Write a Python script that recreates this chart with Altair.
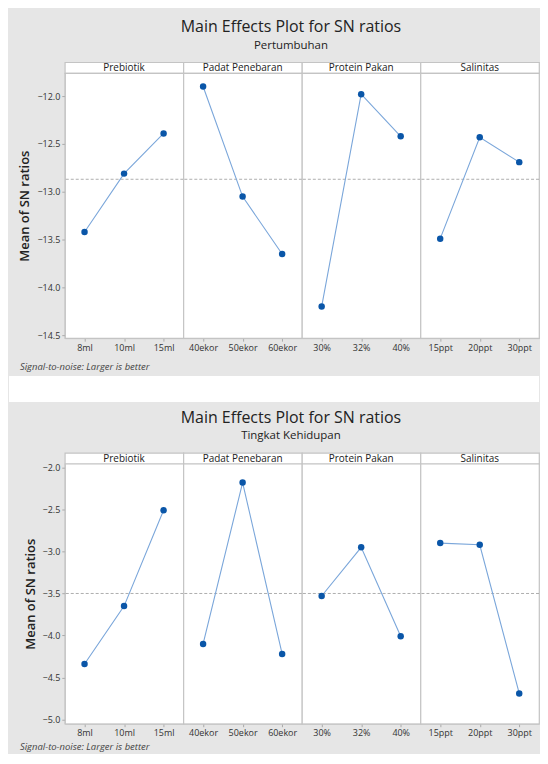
import altair as alt
import pandas as pd

FONT = "Open Sans"

factors = ["Prebiotik", "Padat Penebaran", "Protein Pakan", "Salinitas"]
levels = [
    ["8ml", "10ml", "15ml"],
    ["40ekor", "50ekor", "60ekor"],
    ["30%", "32%", "40%"],
    ["15ppt", "20ppt", "30ppt"],
]

# Mean of SN ratios, Pertumbuhan (growth)
sn_pertumbuhan = [
    [-13.42, -12.81, -12.39],
    [-11.90, -13.05, -13.65],
    [-14.20, -11.98, -12.42],
    [-13.49, -12.43, -12.69],
]
# Mean of SN ratios, Tingkat Kehidupan (survival)
sn_kehidupan = [
    [-4.34, -3.65, -2.51],
    [-4.10, -2.18, -4.22],
    [-3.53, -2.95, -4.01],
    [-2.90, -2.92, -4.69],
]

ticks_pertumbuhan = [-12.0, -12.5, -13.0, -13.5, -14.0, -14.5]
ticks_kehidupan = [-2.0, -2.5, -3.0, -3.5, -4.0, -4.5, -5.0]
domain_pertumbuhan = [-14.53, -11.76]
domain_kehidupan = [-5.05, -1.955]

title_text = "Main Effects Plot for SN ratios"
footer_text = "Signal-to-noise: Larger is better"

W = 119
HEAD = 11
LEFT = 56
BG = "#e6e6e6"
FRAME = "#c4c4c4"
LINE = "#7aa6da"
PT = "#0a56a8"


def block(values, subtitle, ydom, yticks, last, H, foot_dy):
    grand = sum(sum(v) for v in values) / sum(len(v) for v in values)
    headers, plots = [], []
    for i, (f, lv, vals) in enumerate(zip(factors, levels, values)):
        h = (
            alt.Chart(pd.DataFrame({"factor": [f]}))
            .mark_text(fontSize=10, font=FONT, color="#222", baseline="middle", fontWeight=500)
            .encode(text="factor:N", x=alt.value(W / 2), y=alt.value(HEAD / 2 + 0.5))
        )
        if i == 0:
            ttl = (
                alt.Chart(pd.DataFrame({"t": [title_text]}))
                .mark_text(fontSize=16, font=FONT, color="#222", baseline="middle", fontWeight=500)
                .encode(text="t:N", x=alt.value(227), y=alt.value(-35))
            )
            sub = (
                alt.Chart(pd.DataFrame({"t": [subtitle]}))
                .mark_text(fontSize=11.5, font=FONT, color="#222", baseline="middle")
                .encode(text="t:N", x=alt.value(227), y=alt.value(-16.5))
            )
            h = alt.layer(h, ttl, sub)
        h = h.properties(width=W, height=HEAD,
                         view=alt.ViewBackground(fill="white", stroke=FRAME, strokeWidth=1.2))
        headers.append(h)

        df = pd.DataFrame({"level": lv, "sn": vals})
        xenc = alt.X(
            "level:N", sort=lv,
            scale=alt.Scale(type="point", padding=0.5),
            axis=alt.Axis(title=None, labelAngle=0, labelFont=FONT, labelFontSize=9,
                          labelColor="#333", tickColor="#aaa", tickSize=3,
                          domainColor=FRAME, labelPadding=2),
        )
        if i == 0:
            yaxis = alt.Axis(title="Mean of SN ratios", values=yticks, format=".1f",
                             labelFont=FONT, labelFontSize=9, labelColor="#333",
                             tickColor="#aaa", tickSize=3, labelPadding=2,
                             domainColor=FRAME, grid=False,
                             titleFont=FONT, titleFontSize=13, titleFontWeight=600,
                             titleColor="#222", titlePadding=5)
        else:
            yaxis = None
        yenc = alt.Y("sn:Q", scale=alt.Scale(domain=ydom, nice=False, zero=False), axis=yaxis)

        base = alt.Chart(df)
        mean_rule = (
            alt.Chart(pd.DataFrame({"sn": [grand]}))
            .mark_rule(color="#9a9a9a", strokeDash=[3, 2], strokeWidth=0.8)
            .encode(y=yenc)
        )
        line = base.mark_line(color=LINE, strokeWidth=1.1).encode(x=xenc, y=yenc)
        pts = base.mark_circle(size=42, color=PT, opacity=1).encode(x=xenc, y=yenc)
        layers = [mean_rule, line, pts]
        if i == 0:
            footer = (
                alt.Chart(pd.DataFrame({"t": [footer_text]}))
                .mark_text(align="left", baseline="middle", fontStyle="italic",
                           fontSize=9.5, font=FONT, color="#444")
                .encode(text="t:N", x=alt.value(-45), y=alt.value(H + foot_dy))
            )
            if not last:
                gap = (
                    alt.Chart(pd.DataFrame({"t": [""]}))
                    .mark_rect(color="white")
                    .encode(x=alt.value(-LEFT), x2=alt.value(4 * W),
                            y=alt.value(H + 38), y2=alt.value(H + 64))
                )
            else:
                gap = (
                    alt.Chart(pd.DataFrame({"t": [""]}))
                    .mark_rect(color=BG)
                    .encode(x=alt.value(-LEFT), x2=alt.value(-LEFT + 1),
                            y=alt.value(0), y2=alt.value(1))
                )
            layers = [gap, footer] + layers
        p = alt.layer(*layers).properties(
            width=W, height=H,
            view=alt.ViewBackground(fill="white", stroke=FRAME, strokeWidth=1.2),
        )
        plots.append(p)

    return alt.concat(*headers, *plots, columns=4, spacing=0, bounds="flush")


b1 = block(sn_pertumbuhan, "Pertumbuhan", domain_pertumbuhan, ticks_pertumbuhan, False, 266, 29)
b2 = block(sn_kehidupan, "Tingkat Kehidupan", domain_kehidupan, ticks_kehidupan, True, 261, 23)

chart = (
    alt.vconcat(b1, b2, spacing=6)
    .properties(background=BG, padding={"left": 0, "top": 9, "right": 0, "bottom": 0})
    .configure_view(strokeWidth=1.2)
)

chart.save("out.html", embed_options={"renderer": "svg", "actions": False})
